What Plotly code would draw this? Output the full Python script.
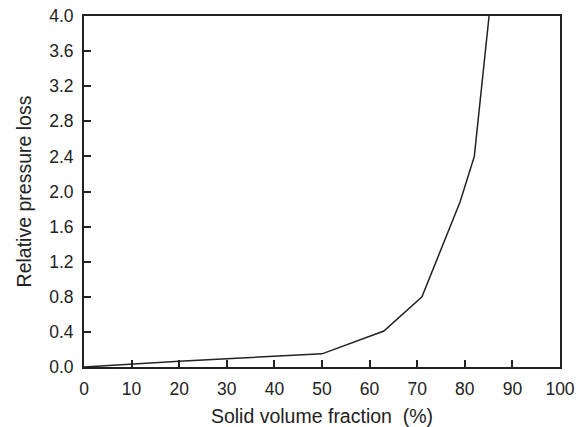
import plotly.graph_objects as go

solid_fraction = [0, 10, 20, 30, 40, 50, 63, 71, 79, 82, 85.1]
pressure_loss = [0.0, 0.035, 0.065, 0.095, 0.125, 0.15, 0.41, 0.80, 1.88, 2.40, 4.0]

x_ticks = [0, 10, 20, 30, 40, 50, 60, 70, 80, 90, 100]
y_ticks = [0.0, 0.4, 0.8, 1.2, 1.6, 2.0, 2.4, 2.8, 3.2, 3.6, 4.0]
y_tick_text = [f"{v:.1f}" for v in y_ticks]

ink = "#222222"
family = "Liberation Sans, Arial, sans-serif"
tick_font = dict(family=family, size=17.5, color=ink)
title_font = dict(family=family, size=19.5, color=ink)

fig = go.Figure()
fig.add_trace(go.Scatter(
    x=solid_fraction, y=pressure_loss, mode="lines",
    line=dict(color=ink, width=1.5), showlegend=False, cliponaxis=True,
))

fig.update_layout(
    width=582, height=427,
    margin=dict(l=84, r=22, t=16, b=60, autoexpand=False),
    paper_bgcolor="white", plot_bgcolor="white",
    font=tick_font,
)
fig.update_xaxes(
    range=[0, 100], tickvals=x_ticks, ticks="inside", ticklen=7, tickwidth=1.5,
    tickcolor=ink, showline=True, linewidth=2, linecolor=ink, mirror=True,
    showgrid=False, zeroline=False, tickfont=tick_font, automargin=False,
    ticklabelstandoff=5, ticklabeloverflow="allow",
    title=dict(text="Solid volume fraction  (%)", font=title_font, standoff=21),
)
fig.update_yaxes(
    range=[0, 4.0], tickvals=y_ticks, ticktext=y_tick_text, ticks="inside",
    ticklen=7, tickwidth=1.5, tickcolor=ink, showline=True, linewidth=2,
    linecolor=ink, mirror=True, showgrid=False, zeroline=False, tickfont=tick_font,
    automargin=False, ticklabelstandoff=5, ticklabeloverflow="allow",
    title=dict(text="Relative pressure loss", font=title_font, standoff=12),
)

# remove the browser's default 8px body margin so the figure fills the window
fig.write_html("out.html", config={"displayModeBar": False},
               post_script="document.body.style.margin='0';")
